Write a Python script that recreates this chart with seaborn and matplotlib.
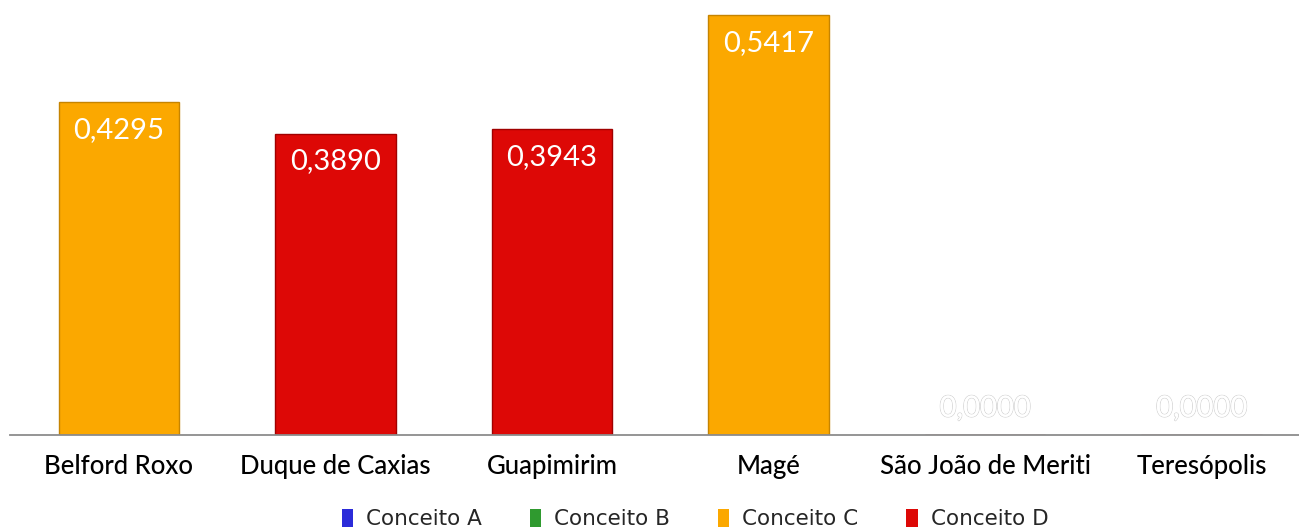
import matplotlib
matplotlib.use("Agg")
import matplotlib.pyplot as plt
import matplotlib.patheffects as pe
from matplotlib.patches import Patch
import seaborn as sns
import pandas as pd

cidades = ["Belford Roxo", "Duque de Caxias", "Guapimirim", "Magé", "São João de Meriti", "Teresópolis"]
valores = [0.4295, 0.3890, 0.3943, 0.5417, 0.0, 0.0]
conceitos = ["Conceito C", "Conceito D", "Conceito D", "Conceito C", "Conceito D", "Conceito D"]
legenda = ["Conceito A", "Conceito B", "Conceito C", "Conceito D"]
cores = {"Conceito A": "#2b2bd9", "Conceito B": "#2f9a2f", "Conceito C": "#fba800", "Conceito D": "#dd0806"}

df = pd.DataFrame({"cidade": cidades, "valor": valores, "conceito": conceitos})

sns.set_style("white")
plt.rcParams['font.family'] = ['Lato', 'DejaVu Sans']

fig = plt.figure(figsize=(12.99, 5.31), dpi=100)
ax = fig.add_axes([10/1299, 96/531, 1289/1299, 435/531])

sns.barplot(data=df, x="cidade", y="valor", hue="conceito", palette=cores,
            dodge=False, width=0.555, legend=False, ax=ax, saturation=1,
            linewidth=1.0)
for p in ax.patches:
    fc = matplotlib.colors.to_hex(p.get_facecolor())
    p.set_edgecolor("#c68400" if fc == "#fba800" else "#a00000")

ax.set_ylim(0, 0.5613)
ax.set_xlim(-0.503, 5.45)
ax.set_xlabel("")
ax.set_ylabel("")
ax.set_yticks([])
for s in ["top", "right", "left"]:
    ax.spines[s].set_visible(False)
ax.spines["bottom"].set_color("#8c8c8c")
ax.spines["bottom"].set_linewidth(1.3)

ax.set_xticks(range(len(cidades)))
ax.set_xticklabels(cidades, fontsize=18.5, color="black", fontweight="medium")
ax.tick_params(axis="x", which="major", length=0, pad=14)
ax.set_xticks([i + 0.5 for i in range(len(cidades) - 1)], minor=True)
ax.tick_params(axis="x", which="minor", length=7, color="#8c8c8c", width=1.3)

for i, v in enumerate(valores):
    txt = f"{v:.4f}".replace(".", ",")
    if v > 0:
        ax.annotate(txt, (i, v), xytext=(0, -20), textcoords="offset points",
                    ha="center", va="center", color="white", fontsize=21)
    else:
        t = ax.annotate(txt, (i, v), xytext=(0, 19), textcoords="offset points",
                        ha="center", va="center", color="white", fontsize=21)
        t.set_path_effects([pe.withStroke(linewidth=1.0, foreground="#cfcfcf"), pe.Normal()])

handles = [Patch(facecolor=cores[k], edgecolor="none") for k in legenda]
fig.legend(handles, legenda, loc="center", bbox_to_anchor=(0.535, 0.022), ncol=4,
           frameon=False, handlelength=0.55, handleheight=0.9,
           handletextpad=0.6, columnspacing=2.2,
           prop={"family": ["DejaVu Sans"], "size": 15.5})

fig.savefig("out.png", dpi=100)
